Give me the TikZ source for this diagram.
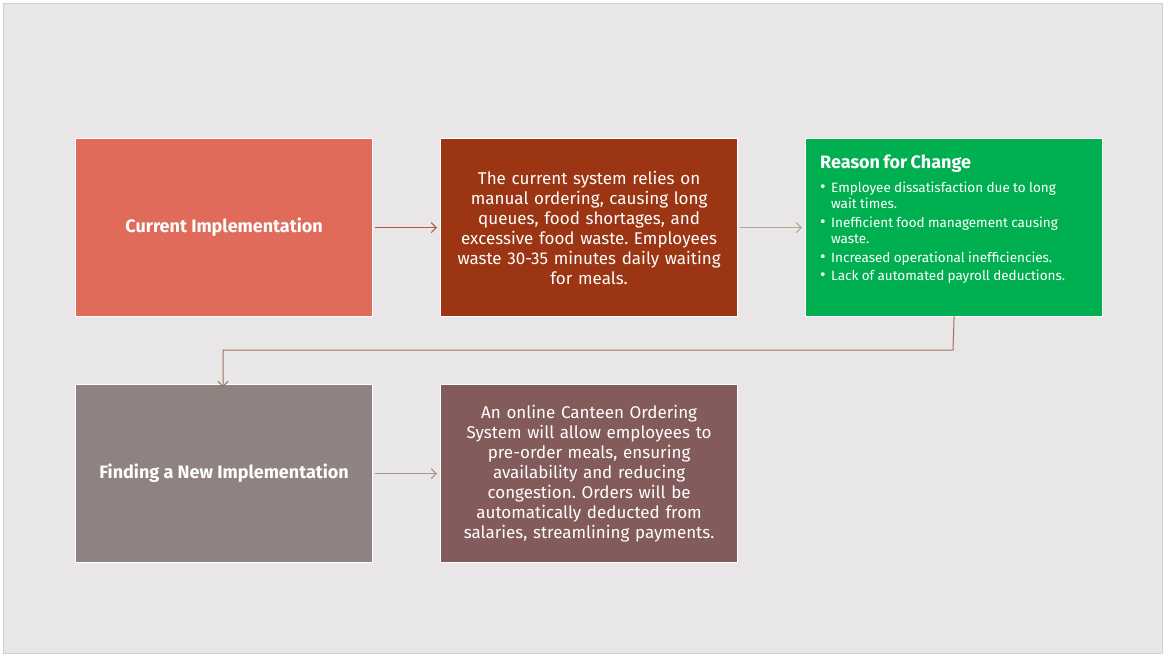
\documentclass[tikz,border=0pt]{standalone}
\usepackage{fontspec}
\setmainfont{Fira Sans}
\usetikzlibrary{arrows.meta}
\definecolor{slidebg}{HTML}{E8E6E6}
\definecolor{slideedge}{HTML}{D2D0D0}
\definecolor{cSalmon}{HTML}{E06B5B}
\definecolor{cRust}{HTML}{9C3513}
\definecolor{cGreen}{HTML}{00B050}
\definecolor{cTaupe}{HTML}{8F8381}
\definecolor{cMauve}{HTML}{845B5B}
\definecolor{aRed}{HTML}{B5554C}
\definecolor{aTan}{HTML}{B3A58F}
\definecolor{aBrown}{HTML}{A0705F}
\definecolor{aGray}{HTML}{A39597}
\frenchspacing
\newcommand\bitem[1]{\par\hangindent=11pt\hangafter=1\noindent\makebox[11pt][l]{\raisebox{0.3pt}{\fontsize{17pt}{15pt}\selectfont\textbullet}}#1\par}
\tikzset{
  box/.style={draw=white, line width=1.2pt, minimum width=297pt, minimum height=178pt, inner sep=0pt, text=white, anchor=north west},
  bodytext/.style={font=\fontsize{17pt}{20pt}\selectfont, align=center, text width=295pt},
  titletext/.style={font=\fontsize{18pt}{20pt}\selectfont\bfseries, align=center},
  flow/.style={line width=1pt, -{Straight Barb[length=5pt,width=10pt]}},
}
\begin{document}
\begin{tikzpicture}[x=1pt,y=-1pt]
\useasboundingbox (0,0) rectangle (1165,656);
\fill[white] (0,0) rectangle (1165,656);
\draw[slideedge, fill=slidebg, line width=1pt] (3.5,3.5) rectangle (1162,653);

\node[box, fill=cSalmon, titletext] (cur) at (75,138) {Current Implementation};
\node[box, fill=cRust, bodytext] (sys) at (440,138) {The current system relies on\\manual ordering, causing long\\queues, food shortages, and\\excessive food waste. Employees\\waste 30-35 minutes daily waiting\\for meals.};
\node[box, fill=cGreen] (why) at (805,138) {};
\node[anchor=north west, text width=285pt, text=white, inner sep=0pt] (whytxt) at (820,155)
{{\fontsize{18pt}{20pt}\selectfont\bfseries Reason for Change\par}\vspace{7pt}%
\fontsize{13.5pt}{16.5pt}\selectfont\raggedright
\bitem{Employee dissatisfaction due to long\newline wait times.}\vspace{2pt}
\bitem{Inefficient food management causing\newline waste.}\vspace{2pt}
\bitem{Increased operational inefficiencies.}\vspace{2pt}
\bitem{Lack of automated payroll deductions.}};
\node[box, fill=cTaupe, titletext] (find) at (75,384) {Finding a New Implementation};
\node[box, fill=cMauve, bodytext] (plan) at (440,384) {An online Canteen Ordering\\System will allow employees to\\pre-order meals, ensuring\\availability and reducing\\congestion. Orders will be\\automatically deducted from\\salaries, streamlining payments.};

\draw[flow, aRed] ([xshift=2pt]cur.east) -- ([xshift=-3pt]sys.west);
\draw[flow, aTan] ([xshift=2pt]sys.east) -- ([xshift=-3pt]why.west);
\coordinate (bend) at (953,350);
\draw[flow, aBrown] ([yshift=1pt]why.south) -- (bend) -- (223,350) -- ([yshift=-3pt]find.north -| 223,0);
\draw[flow, aGray] ([xshift=2pt]find.east) -- ([xshift=-3pt]plan.west);
\end{tikzpicture}
\end{document}
